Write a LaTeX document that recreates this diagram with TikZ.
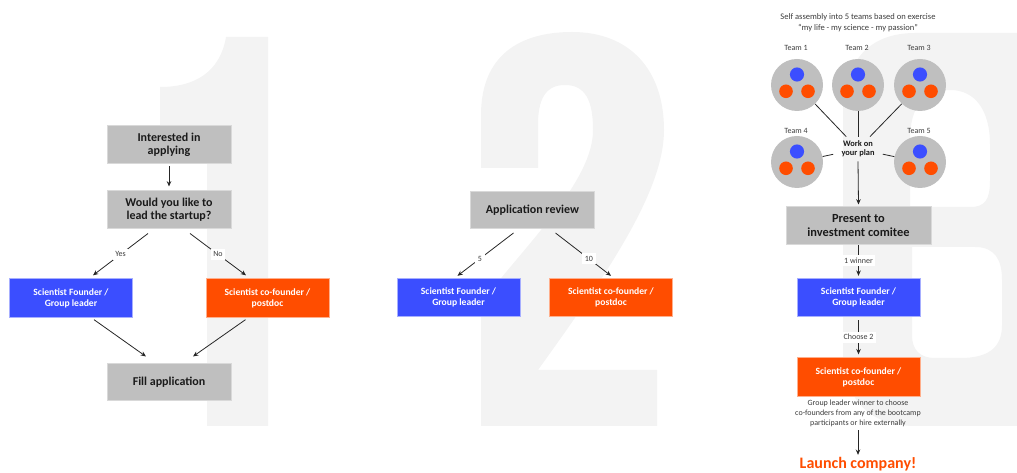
\documentclass[tikz,border=0pt]{standalone}
\usepackage{fontspec}
\setmainfont{Carlito}
\usetikzlibrary{arrows.meta,calc}
\definecolor{boxgray}{RGB}{191,191,191}
\definecolor{numgray}{RGB}{243,243,243}
\definecolor{fblue}{RGB}{59,78,255}
\definecolor{forange}{RGB}{255,77,0}
\definecolor{txt}{RGB}{26,26,26}
\definecolor{lbl}{RGB}{60,60,60}
\begin{document}
\begin{tikzpicture}[x=0.75pt,y=-0.75pt,
  graybox/.style={rectangle, fill=boxgray, draw=gray!30, line width=0.5pt, minimum width=93pt, minimum height=28pt, align=center, font=\fontsize{9}{9.75}\selectfont\bfseries, text=txt, inner sep=0pt},
  bluebox/.style={rectangle, fill=fblue, draw=fblue!45!white, line width=0.5pt, minimum width=92.5pt, minimum height=29pt, align=center, font=\fontsize{7.2}{8.25}\selectfont\bfseries, text=white, inner sep=0pt},
  orangebox/.style={rectangle, fill=forange, draw=forange!45!white, line width=0.5pt, minimum width=92.5pt, minimum height=29pt, align=center, font=\fontsize{7.2}{8.25}\selectfont\bfseries, text=white, inner sep=0pt},
  conn/.style={-{Stealth[length=4pt,width=3.4pt]}, line width=0.6pt, black!85},
  plain/.style={line width=0.6pt, black!85},
  elbl/.style={fill=white, inner sep=2pt, font=\fontsize{6}{7}\selectfont, text=lbl},
  team/.style={circle, fill=boxgray, minimum size=39pt, inner sep=0pt},
  tlbl/.style={font=\fontsize{6}{7}\selectfont, text=lbl},
  smalltext/.style={font=\fontsize{6.3}{8.25}\selectfont, text=lbl, align=center},
]
\useasboundingbox (0,0) rectangle (1017,473);
\clip (0,0) rectangle (1017,473);

% background numerals
\fill[numgray] (207,426) -- (268,426) -- (268,37) -- (226,37)
  .. controls (220,72) and (195,87) .. (160,87) -- (160,150) -- (207,150) -- cycle;
\fill[numgray] (481,168) -- (481,115) .. controls (481,55) and (520,32) .. (572,32)
  .. controls (630,32) and (664,70) .. (664,130)
  .. controls (664,190) and (610,270) .. (538,370) -- (657,370) -- (657,426) -- (481,426) -- (481,303)
  .. controls (530,240) and (593,180) .. (593,130)
  .. controls (593,100) and (585,85) .. (565,85)
  .. controls (545,85) and (538,100) .. (538,125) -- (538,168) -- cycle;
\fill[numgray, even odd rule]
  (843,115) .. controls (843,60) and (870,33) .. (915,33) -- (1030,33) -- (1030,426) -- (915,426)
  .. controls (870,426) and (843,400) .. (843,350) -- cycle
  (910,140) .. controls (910,105) and (925,90) .. (950,90)
  .. controls (975,90) and (990,110) .. (990,145) -- (990,180)
  .. controls (990,200) and (985,207) .. (970,207) -- (910,207) -- cycle
  (912,247) -- (975,247) .. controls (995,247) and (1002,260) .. (1002,280) -- (1002,325)
  .. controls (1002,348) and (988,358) .. (960,358) -- (935,358)
  .. controls (920,358) and (912,350) .. (912,335) -- cycle;

% ---------- Section 1 ----------
\node[graybox] (int) at (169,144.5) {Interested in\\applying};
\node[graybox] (lead) at (169,209.5) {Would you like to\\lead the startup?};
\node[bluebox] (sf1) at (71,298) {Scientist Founder /\\Group leader};
\node[orangebox] (cf1) at (267.5,298) {Scientist co-founder /\\postdoc};
\node[graybox] (fill) at (169,382) {Fill application};

\draw[conn] ($(int.south)+(0,3)$) -- ($(lead.north)+(0,-4)$);
\draw[conn] ($(lead.south)+(-21,5)$) -- node[elbl]{Yes} ($(sf1.north)+(22,-3)$);
\draw[conn] ($(lead.south)+(21,5)$) -- node[elbl]{No} ($(cf1.north)+(-21.5,-3)$);
\draw[conn] ($(sf1.south)+(23,2)$) -- ($(fill.north)+(-23,-6.5)$);
\draw[conn] ($(cf1.south)+(-22,2)$) -- ($(fill.north)+(24,-6.5)$);

% ---------- Section 2 ----------
\node[graybox] (rev) at (532.5,210) {Application review};
\node[bluebox] (sf2) at (458.5,297.5) {Scientist Founder /\\Group leader};
\node[orangebox] (cf2) at (611,297.5) {Scientist co-founder /\\postdoc};
\draw[conn] ($(rev.south)+(-19,4)$) -- node[elbl, pos=0.6]{5} ($(sf2.north)+(-1,-2)$);
\draw[conn] ($(rev.south)+(23,4)$) -- node[elbl, pos=0.6]{10} ($(cf2.north)+(0,-2)$);

% ---------- Section 3 ----------
\node[smalltext, font=\fontsize{6.4}{8.25}\selectfont] (title) at (858,22.5) {Self assembly into 5 teams based on exercise\\“my life - my science - my passion”};

\foreach \n/\x/\y/\ly in {1/797/85/48, 2/858/85/48, 3/920/85/48, 4/797/162/131, 5/920/162/131} {
  \node[team] (t\n) at (\x,\y) {};
  \fill[fblue] (\x,{\y-10.5}) circle (5.3pt);
  \fill[forange] ({\x-11},{\y+6.3}) circle (5.1pt);
  \fill[forange] ({\x+11},{\y+6.3}) circle (5.1pt);
  \node[tlbl] (tl\n) at ({\x-1},\ly) {Team \n};
}
\node[font=\fontsize{6.3}{6.75}\selectfont\bfseries, align=center, text=txt, inner xsep=6pt, inner ysep=3pt] (work) at (858,149) {Work on\\your plan};
\foreach \n in {1,...,5} { \draw[plain] (t\n) -- (work); }

\node[graybox, minimum width=108.75pt, font=\fontsize{9.3}{10}\selectfont\bfseries] (pres) at (858.5,225.5) {Present to\\investment comitee};
\draw[conn] (work.south) -- ($(pres.north)+(0,-2)$);

\node[bluebox] (sf3) at (858.5,297.5) {Scientist Founder /\\Group leader};
\node[orangebox] (cf3) at (858.5,377) {Scientist co-founder /\\postdoc};
\draw[conn] ($(pres.south)+(0,1)$) -- node[elbl]{1 winner} ($(sf3.north)+(0,-2)$);
\draw[conn] ($(sf3.south)+(0,3)$) -- node[elbl]{Choose 2} ($(cf3.north)+(0,-3)$);

\node[smalltext, font=\fontsize{6}{7.5}\selectfont, inner sep=2pt] (bcap) at (858,413) {Group leader winner to choose\\co-founders from any of the bootcamp\\participants or hire externally};
\node[anchor=base, font=\fontsize{12}{14}\selectfont\bfseries, text=forange, inner sep=2pt] (launch) at (858,469) {Launch company!};
\draw[conn] ($(bcap.south)+(0,1)$) -- (launch.north);
\end{tikzpicture}
\end{document}
